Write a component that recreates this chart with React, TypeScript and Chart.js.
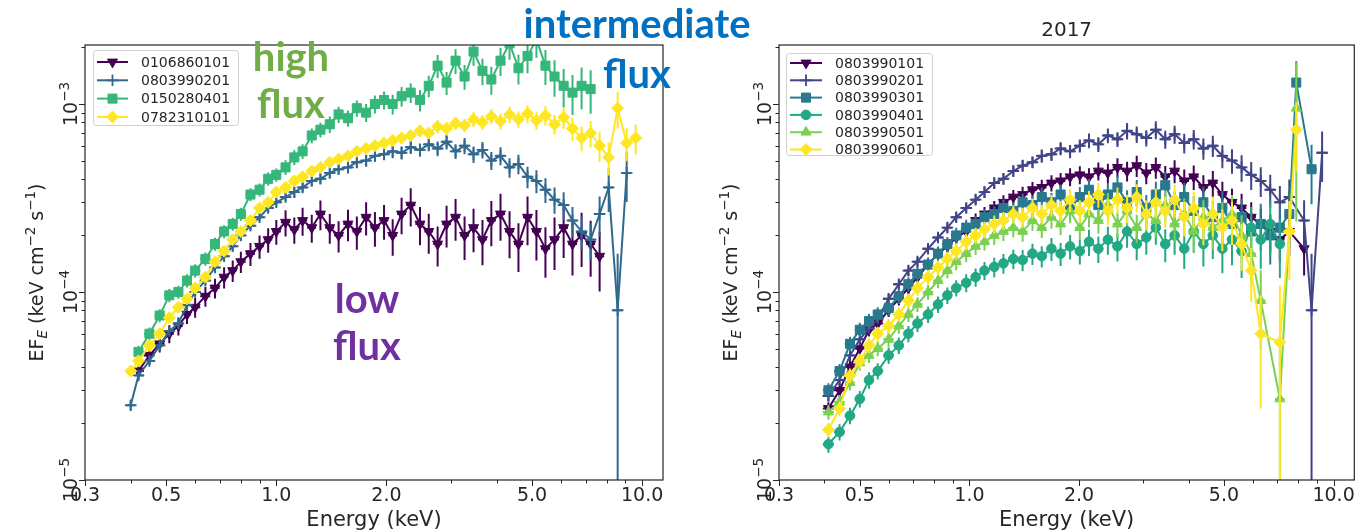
import { useEffect, useRef } from "react";
import { Chart, registerables } from "chart.js";

Chart.register(...registerables);

// ---------------- DATA ----------------
// Left panel: energy grid (keV)
const LEFT_ENERGY = [
  0.40, 0.42, 0.45, 0.48, 0.51, 0.54, 0.57, 0.60, 0.64, 0.68,
  0.72, 0.76, 0.80, 0.85, 0.90, 0.95, 1.00, 1.06, 1.12, 1.18,
  1.25, 1.32, 1.40, 1.48, 1.57, 1.66, 1.76, 1.86, 1.97, 2.08,
  2.20, 2.33, 2.47, 2.61, 2.76, 2.92, 3.09, 3.27, 3.46, 3.66,
  3.87, 4.10, 4.34, 4.59, 4.86, 5.14, 5.44, 5.76, 6.10, 6.45,
  6.83, 7.23, 7.65, 8.10, 8.57, 9.07, 9.60,
];
const LEFT_LABELS = ["0106860101", "0803990201", "0150280401", "0782310101"];

// EF_E values (keV cm^-2 s^-1)
const L_0106860101 = [
  null, 3.8e-5, 4.6e-5, 5.3e-5, 6.0e-5, 6.6e-5, 7.6e-5, 8.3e-5, 9.5e-5, 1.05e-4,
  1.2e-4, 1.3e-4, 1.45e-4, 1.6e-4, 1.75e-4, 1.9e-4, 2.1e-4, 2.35e-4, 2.15e-4, 2.4e-4,
  2.2e-4, 2.6e-4, 2.2e-4, 2.0e-4, 2.3e-4, 2.1e-4, 2.5e-4, 2.2e-4, 2.4e-4, 2.0e-4,
  2.6e-4, 2.9e-4, 2.3e-4, 2.1e-4, 1.8e-4, 2.3e-4, 2.5e-4, 2.0e-4, 2.2e-4, 1.9e-4,
  2.4e-4, 2.6e-4, 2.1e-4, 1.8e-4, 2.5e-4, 2.1e-4, 1.7e-4, 1.9e-4, 2.2e-4, 1.8e-4,
  2.0e-4, 1.8e-4, 1.55e-4, null, null, null, null,
];
const L_0803990201 = [
  2.5e-5, 3.6e-5, 4.3e-5, 5.2e-5, 6.2e-5, 6.8e-5, 8.5e-5, 1.0e-4, 1.15e-4, 1.35e-4,
  1.55e-4, 1.75e-4, 2.0e-4, 2.25e-4, 2.5e-4, 2.8e-4, 3.0e-4, 3.2e-4, 3.4e-4, 3.6e-4,
  3.9e-4, 4.0e-4, 4.3e-4, 4.5e-4, 4.6e-4, 4.9e-4, 5.0e-4, 5.3e-4, 5.4e-4, 5.6e-4,
  5.5e-4, 5.9e-4, 5.7e-4, 6.1e-4, 5.8e-4, 6.3e-4, 5.6e-4, 6.0e-4, 5.4e-4, 5.7e-4,
  5.0e-4, 5.3e-4, 4.6e-4, 4.8e-4, 4.1e-4, 3.9e-4, 3.5e-4, 3.1e-4, 2.9e-4, 2.4e-4,
  2.1e-4, 1.9e-4, 2.6e-4, 3.6e-4, 8.0e-5, 4.3e-4, null,
];
const L_0150280401 = [
  null, 4.8e-5, 6.0e-5, 7.5e-5, 9.6e-5, 1.0e-4, 1.15e-4, 1.3e-4, 1.5e-4, 1.8e-4,
  2.1e-4, 2.3e-4, 2.6e-4, 3.3e-4, 3.5e-4, 4.0e-4, 4.2e-4, 4.6e-4, 5.2e-4, 5.6e-4,
  6.8e-4, 7.3e-4, 7.8e-4, 8.8e-4, 8.4e-4, 9.5e-4, 9.0e-4, 1.0e-3, 1.05e-3, 1.0e-3,
  1.1e-3, 1.15e-3, 1.05e-3, 1.25e-3, 1.6e-3, 1.3e-3, 1.7e-3, 1.4e-3, 1.9e-3, 1.5e-3,
  1.35e-3, 1.7e-3, 2.1e-3, 1.55e-3, 1.8e-3, 2.2e-3, 1.6e-3, 1.4e-3, 1.25e-3, 1.15e-3,
  1.25e-3, 1.2e-3, null, null, null, null, null,
];
const L_0782310101 = [
  3.8e-5, 4.3e-5, 5.2e-5, 6.0e-5, 7.3e-5, 8.3e-5, 9.2e-5, 1.05e-4, 1.2e-4, 1.45e-4,
  1.65e-4, 1.9e-4, 2.1e-4, 2.4e-4, 2.8e-4, 3.0e-4, 3.4e-4, 3.6e-4, 3.9e-4, 4.1e-4,
  4.4e-4, 4.6e-4, 4.9e-4, 5.1e-4, 5.3e-4, 5.6e-4, 5.8e-4, 6.0e-4, 6.2e-4, 6.4e-4,
  6.6e-4, 6.8e-4, 7.2e-4, 7.0e-4, 7.6e-4, 7.4e-4, 7.9e-4, 7.7e-4, 8.3e-4, 8.0e-4,
  8.6e-4, 8.1e-4, 8.8e-4, 8.3e-4, 8.9e-4, 8.2e-4, 8.7e-4, 7.8e-4, 8.5e-4, 7.4e-4,
  6.6e-4, 7.0e-4, 6.0e-4, 5.2e-4, 9.5e-4, 6.2e-4, 6.6e-4,
];
// 1-sigma errors, percent of value
const L_ERR_0106860101 = [
  null, 10, 10, 10, 11, 11, 11, 12, 12, 12,
  13, 13, 13, 14, 14, 15, 15, 16, 16, 17,
  17, 18, 18, 19, 19, 20, 20, 21, 21, 22,
  22, 23, 23, 24, 24, 25, 25, 26, 26, 27,
  27, 28, 28, 29, 29, 30, 30, 31, 31, 32,
  32, 33, 35, null, null, null, null,
];
const L_ERR_0803990201 = [
  6, 5, 5, 5, 5, 5, 5, 5, 5, 5,
  5, 5, 5, 5, 5, 5, 5, 5, 6, 6,
  6, 6, 6, 6, 7, 7, 7, 7, 7, 8,
  8, 8, 8, 8, 9, 9, 9, 10, 10, 10,
  11, 11, 12, 12, 13, 14, 15, 16, 17, 18,
  20, 22, 24, 26, 100, 30, null,
];
const L_ERR_0150280401 = [
  null, 8, 8, 8, 8, 8, 8, 8, 8, 8,
  8, 8, 8, 8, 8, 8, 8, 9, 9, 9,
  9, 9, 10, 10, 10, 10, 11, 11, 11, 12,
  12, 12, 13, 13, 14, 14, 15, 15, 16, 16,
  17, 17, 18, 18, 19, 20, 21, 22, 23, 24,
  25, 26, null, null, null, null, null,
];
const L_ERR_0782310101 = [
  6, 6, 5, 5, 5, 5, 5, 5, 5, 5,
  5, 5, 5, 5, 5, 5, 5, 5, 5, 5,
  5, 5, 5, 6, 6, 6, 6, 6, 6, 7,
  7, 7, 7, 7, 8, 8, 8, 8, 9, 9,
  9, 10, 10, 10, 11, 11, 12, 12, 13, 14,
  15, 16, 18, 20, 22, 20, 18,
];

// Right panel (2017)
const RIGHT_ENERGY = [
  0.41, 0.44, 0.47, 0.50, 0.53, 0.56, 0.60, 0.64, 0.68, 0.72,
  0.77, 0.82, 0.87, 0.92, 0.98, 1.04, 1.10, 1.17, 1.24, 1.32,
  1.40, 1.49, 1.58, 1.68, 1.78, 1.89, 2.01, 2.13, 2.26, 2.40,
  2.55, 2.71, 2.88, 3.06, 3.25, 3.45, 3.66, 3.89, 4.13, 4.39,
  4.66, 4.95, 5.26, 5.59, 5.94, 6.31, 6.70, 7.12, 7.56, 7.90,
  8.30, 8.70, 9.30,
];
const RIGHT_LABELS = ["0803990101", "0803990201", "0803990301", "0803990401", "0803990501", "0803990601"];

const R_0803990101 = [
  2.4e-5, 3.0e-5, 4.0e-5, 5.0e-5, 6.3e-5, 6.8e-5, 8.0e-5, 9.2e-5, 1.05e-4, 1.2e-4,
  1.4e-4, 1.6e-4, 1.75e-4, 1.95e-4, 2.1e-4, 2.4e-4, 2.6e-4, 2.8e-4, 3.0e-4, 3.2e-4,
  3.3e-4, 3.5e-4, 3.6e-4, 3.8e-4, 3.9e-4, 4.1e-4, 4.2e-4, 4.1e-4, 4.4e-4, 4.3e-4,
  4.6e-4, 4.4e-4, 4.7e-4, 4.3e-4, 4.6e-4, 4.1e-4, 4.4e-4, 3.9e-4, 4.1e-4, 3.6e-4,
  3.8e-4, 3.3e-4, 3.0e-4, 2.8e-4, 2.5e-4, 2.3e-4, 2.1e-4, 1.9e-4, 2.1e-4, null,
  1.7e-4, null, null,
];
const R_0803990201 = [
  2.8e-5, 3.4e-5, 4.6e-5, 5.6e-5, 6.4e-5, 7.2e-5, 9.2e-5, 1.1e-4, 1.3e-4, 1.45e-4,
  1.7e-4, 1.95e-4, 2.2e-4, 2.5e-4, 2.8e-4, 3.1e-4, 3.4e-4, 3.8e-4, 4.0e-4, 4.4e-4,
  4.7e-4, 4.9e-4, 5.3e-4, 5.4e-4, 5.8e-4, 5.6e-4, 6.0e-4, 6.4e-4, 6.1e-4, 6.8e-4,
  6.5e-4, 7.2e-4, 6.9e-4, 6.6e-4, 7.3e-4, 6.5e-4, 6.9e-4, 6.2e-4, 6.5e-4, 5.8e-4,
  6.0e-4, 5.3e-4, 5.0e-4, 4.6e-4, 4.2e-4, 3.9e-4, 3.5e-4, 3.0e-4, 3.2e-4, null,
  2.4e-4, 8.0e-5, 5.5e-4,
];
const R_0803990301 = [
  3.0e-5, 3.8e-5, 5.3e-5, 6.3e-5, 7.0e-5, 7.6e-5, 8.2e-5, 9.5e-5, 1.1e-4, 1.25e-4,
  1.4e-4, 1.6e-4, 1.8e-4, 2.0e-4, 2.2e-4, 2.3e-4, 2.5e-4, 2.6e-4, 2.8e-4, 2.7e-4,
  3.0e-4, 2.9e-4, 3.2e-4, 3.0e-4, 3.3e-4, 2.8e-4, 3.2e-4, 3.5e-4, 2.9e-4, 3.3e-4,
  3.6e-4, 3.0e-4, 3.4e-4, 2.8e-4, 3.3e-4, 3.7e-4, 2.9e-4, 3.2e-4, 2.7e-4, 3.0e-4,
  2.5e-4, 2.8e-4, 2.3e-4, 2.5e-4, 2.1e-4, 2.3e-4, 2.0e-4, 2.2e-4, 2.6e-4, 1.3e-3,
  null, 4.5e-4, null,
];
const R_0803990401 = [
  1.55e-5, 1.8e-5, 2.2e-5, 2.7e-5, 3.4e-5, 3.8e-5, 4.6e-5, 5.2e-5, 6.0e-5, 6.8e-5,
  7.6e-5, 8.6e-5, 9.6e-5, 1.05e-4, 1.12e-4, 1.2e-4, 1.3e-4, 1.36e-4, 1.42e-4, 1.5e-4,
  1.48e-4, 1.6e-4, 1.55e-4, 1.7e-4, 1.6e-4, 1.75e-4, 1.65e-4, 1.85e-4, 1.7e-4, 1.9e-4,
  1.75e-4, 2.1e-4, 1.8e-4, 1.95e-4, 2.2e-4, 1.8e-4, 2.0e-4, 1.7e-4, 2.1e-4, 1.8e-4,
  2.0e-4, 1.7e-4, 1.9e-4, 1.65e-4, 2.2e-4, 1.9e-4, 2.3e-4, 1.8e-4, null, null,
  null, null, null,
];
const R_0803990501 = [
  2.3e-5, 2.6e-5, 3.3e-5, 4.2e-5, 4.6e-5, 5.0e-5, 5.6e-5, 6.6e-5, 7.6e-5, 8.6e-5,
  1.0e-4, 1.15e-4, 1.3e-4, 1.45e-4, 1.6e-4, 1.75e-4, 1.85e-4, 2.0e-4, 2.1e-4, 2.2e-4,
  2.1e-4, 2.4e-4, 2.2e-4, 2.5e-4, 2.3e-4, 2.7e-4, 2.2e-4, 2.6e-4, 2.4e-4, 2.9e-4,
  2.3e-4, 2.7e-4, 2.2e-4, 2.6e-4, 2.4e-4, 2.9e-4, 2.3e-4, 2.6e-4, 2.1e-4, 2.5e-4,
  2.2e-4, 2.4e-4, 2.6e-4, 2.0e-4, 1.6e-4, 9.0e-5, null, 2.7e-5, null, 9.5e-4,
  null, null, null,
];
const R_0803990601 = [
  1.85e-5, 2.4e-5, 3.6e-5, 4.3e-5, 5.2e-5, 6.0e-5, 6.6e-5, 7.6e-5, 9.0e-5, 1.05e-4,
  1.2e-4, 1.35e-4, 1.5e-4, 1.65e-4, 1.85e-4, 2.0e-4, 2.15e-4, 2.3e-4, 2.4e-4, 2.6e-4,
  2.5e-4, 2.8e-4, 2.6e-4, 2.9e-4, 2.7e-4, 3.1e-4, 2.7e-4, 3.0e-4, 3.3e-4, 2.7e-4,
  3.1e-4, 2.8e-4, 3.2e-4, 2.6e-4, 3.0e-4, 2.7e-4, 3.1e-4, 2.5e-4, 2.8e-4, 2.3e-4,
  2.6e-4, 2.2e-4, 2.4e-4, 1.8e-4, 1.3e-4, 6.0e-5, null, 5.4e-5, 2.1e-4, 7.3e-4,
  null, null, null,
];
const R_ERR_0803990101 = [
  8, 8, 8, 8, 8, 8, 8, 8, 8, 8,
  8, 8, 8, 8, 8, 9, 9, 9, 9, 9,
  10, 10, 10, 10, 10, 11, 11, 11, 11, 12,
  12, 12, 13, 13, 13, 14, 14, 15, 15, 16,
  16, 17, 18, 19, 20, 21, 22, 24, 26, null,
  28, null, null,
];
const R_ERR_0803990201 = [
  6, 6, 6, 6, 6, 6, 6, 6, 6, 6,
  6, 6, 6, 6, 6, 6, 7, 7, 7, 7,
  7, 7, 8, 8, 8, 8, 8, 9, 9, 9,
  9, 10, 10, 10, 11, 11, 11, 12, 12, 13,
  13, 14, 15, 16, 17, 18, 20, 22, 24, null,
  28, 100, 30,
];
const R_ERR_0803990301 = [
  9, 9, 9, 9, 9, 9, 9, 9, 9, 9,
  9, 9, 9, 10, 10, 10, 10, 10, 11, 11,
  11, 12, 12, 12, 13, 13, 13, 14, 14, 15,
  15, 16, 16, 17, 17, 18, 18, 19, 20, 21,
  22, 23, 24, 25, 26, 28, 30, 32, 34, 30,
  null, 35, null,
];
const R_ERR_0803990401 = [
  10, 10, 10, 10, 10, 10, 10, 10, 10, 10,
  10, 10, 10, 10, 11, 11, 11, 12, 12, 12,
  13, 13, 13, 14, 14, 15, 15, 16, 16, 17,
  17, 18, 18, 19, 19, 20, 21, 22, 23, 24,
  25, 26, 27, 28, 29, 30, 32, 34, null, null,
  null, null, null,
];
const R_ERR_0803990501 = [
  9, 9, 9, 9, 9, 9, 9, 9, 9, 9,
  9, 9, 9, 10, 10, 10, 10, 11, 11, 11,
  12, 12, 12, 13, 13, 14, 14, 15, 15, 16,
  16, 17, 17, 18, 18, 19, 20, 21, 22, 23,
  24, 25, 26, 28, 30, 45, null, 100, null, 75,
  null, null, null,
];
const R_ERR_0803990601 = [
  9, 9, 9, 9, 9, 9, 9, 9, 9, 9,
  9, 9, 9, 10, 10, 10, 10, 11, 11, 11,
  12, 12, 12, 13, 13, 14, 14, 15, 15, 16,
  16, 17, 17, 18, 18, 19, 20, 21, 22, 23,
  24, 25, 26, 28, 32, 60, null, 100, 45, 40,
  null, null, null,
];

// Axis ticks
const X_TICK_VALUES = [0.3, 0.5, 1, 2, 5, 10];
const X_TICK_LABELS = ["0.3", "0.5", "1.0", "2.0", "5.0", "10.0"];
const X_MINOR_TICKS = [0.4, 0.6, 0.7, 0.8, 0.9, 3, 4, 6, 7, 8, 9];
const Y_DECADES = [1e-5, 1e-4, 1e-3];
const Y_DECADE_EXPONENTS = ["\u22125", "\u22124", "\u22123"];
const Y_MINOR_MULT = [2, 3, 4, 5, 6, 7, 8, 9];
const X_RANGE = [0.3, 11.4];
const Y_RANGE = [1e-5, 2.06e-3];

// ---------------- STYLE ----------------
const W = 1362;
const H = 532;
const AXIS_COLOR = "#262626";
const FONT = '"DejaVu Sans", sans-serif';

type MarkerName = "triDown" | "triUp" | "plus" | "square" | "circle" | "diamond";
const MARKERS: Record<MarkerName, { style: string; rotation: number; radius: number }> = {
  triDown: { style: "triangle", rotation: 180, radius: 5.8 },
  triUp: { style: "triangle", rotation: 0, radius: 5.8 },
  plus: { style: "cross", rotation: 0, radius: 5.8 },
  square: { style: "rect", rotation: 0, radius: 6.4 },
  circle: { style: "circle", rotation: 0, radius: 4.8 },
  diamond: { style: "rectRot", rotation: 0, radius: 6 },
};

const LEFT_SERIES = [
  { label: LEFT_LABELS[0], values: L_0106860101, err: L_ERR_0106860101, color: "#440154", marker: "triDown" as MarkerName },
  { label: LEFT_LABELS[1], values: L_0803990201, err: L_ERR_0803990201, color: "#31688e", marker: "plus" as MarkerName },
  { label: LEFT_LABELS[2], values: L_0150280401, err: L_ERR_0150280401, color: "#35b779", marker: "square" as MarkerName },
  { label: LEFT_LABELS[3], values: L_0782310101, err: L_ERR_0782310101, color: "#fde725", marker: "diamond" as MarkerName },
];
const RIGHT_SERIES = [
  { label: RIGHT_LABELS[0], values: R_0803990101, err: R_ERR_0803990101, color: "#440154", marker: "triDown" as MarkerName },
  { label: RIGHT_LABELS[1], values: R_0803990201, err: R_ERR_0803990201, color: "#414487", marker: "plus" as MarkerName },
  { label: RIGHT_LABELS[2], values: R_0803990301, err: R_ERR_0803990301, color: "#2a788e", marker: "square" as MarkerName },
  { label: RIGHT_LABELS[3], values: R_0803990401, err: R_ERR_0803990401, color: "#22a884", marker: "circle" as MarkerName },
  { label: RIGHT_LABELS[4], values: R_0803990501, err: R_ERR_0803990501, color: "#7ad151", marker: "triUp" as MarkerName },
  { label: RIGHT_LABELS[5], values: R_0803990601, err: R_ERR_0803990601, color: "#fde725", marker: "diamond" as MarkerName },
];

type Panel = {
  left: number; right: number; top: number; bottom: number;
  title: string | null;
  legend: { x: number; y: number; w: number; h: number; row0: number; dy: number; lineX0: number; lineX1: number; textX: number };
  annotate: boolean;
};

const LEFT_PANEL: Panel = {
  left: 85, right: 663, top: 45, bottom: 480, title: null,
  legend: { x: 93, y: 50, w: 145, h: 75, row0: 62, dy: 18.3, lineX0: 97, lineX1: 128, textX: 141 },
  annotate: false,
};
const RIGHT_PANEL: Panel = {
  left: 779, right: 1359, top: 45, bottom: 480, title: "2017",
  legend: { x: 786, y: 53, w: 146, h: 102, row0: 63, dy: 17.3, lineX0: 790, lineX1: 822, textX: 835 },
  annotate: true,
};

const ANNOTATIONS = [
  { lines: ["high", "flux"], color: "#70AD47", cx: 291, baselines: [71, 118] },
  { lines: ["intermediate", "flux"], color: "#0070C0", cx: 637, baselines: [38, 88] },
  { lines: ["low", "flux"], color: "#7030A0", cx: 367, baselines: [313, 360] },
];

// ---------------- HELPERS ----------------
function drawMarker(ctx: CanvasRenderingContext2D, m: MarkerName, x: number, y: number, color: string) {
  const cfg = MARKERS[m];
  const r = cfg.radius;
  ctx.save();
  ctx.fillStyle = color;
  ctx.strokeStyle = color;
  ctx.lineWidth = m === "plus" ? 1.8 : 1;
  ctx.beginPath();
  if (m === "triDown" || m === "triUp") {
    let rad = (cfg.rotation * Math.PI) / 180;
    for (let i = 0; i < 3; i++) {
      const px = x + Math.sin(rad) * r;
      const py = y - Math.cos(rad) * r;
      if (i === 0) ctx.moveTo(px, py); else ctx.lineTo(px, py);
      rad += (2 * Math.PI) / 3;
    }
    ctx.closePath();
    ctx.fill();
    ctx.stroke();
  } else if (m === "plus") {
    ctx.moveTo(x, y - r); ctx.lineTo(x, y + r);
    ctx.moveTo(x - r, y); ctx.lineTo(x + r, y);
    ctx.stroke();
  } else if (m === "square") {
    const s = r * Math.SQRT1_2;
    ctx.rect(x - s, y - s, 2 * s, 2 * s);
    ctx.fill(); ctx.stroke();
  } else if (m === "circle") {
    ctx.arc(x, y, r, 0, Math.PI * 2);
    ctx.fill(); ctx.stroke();
  } else {
    ctx.moveTo(x - r, y); ctx.lineTo(x, y - r); ctx.lineTo(x + r, y); ctx.lineTo(x, y + r);
    ctx.closePath();
    ctx.fill(); ctx.stroke();
  }
  ctx.restore();
}

type Part = { t: string; size: number; dy?: number; italic?: boolean };
function drawRotated(ctx: CanvasRenderingContext2D, xBase: number, yCenter: number, parts: Part[]) {
  ctx.save();
  ctx.translate(xBase, yCenter);
  ctx.rotate(-Math.PI / 2);
  ctx.textAlign = "left";
  ctx.textBaseline = "alphabetic";
  const widths = parts.map((p) => {
    ctx.font = `${p.italic ? "italic " : ""}${p.size}px ${FONT}`;
    return ctx.measureText(p.t).width;
  });
  const total = widths.reduce((a, b) => a + b, 0);
  let x = -total / 2;
  parts.forEach((p, i) => {
    ctx.font = `${p.italic ? "italic " : ""}${p.size}px ${FONT}`;
    ctx.fillText(p.t, x, p.dy || 0);
    x += widths[i];
  });
  ctx.restore();
}

const errorBarPlugin = {
  id: "errbars",
  beforeDatasetDraw(chart: any, args: any) {
    const ds: any = chart.data.datasets[args.index];
    const err: (number | null)[] = ds.errPct;
    const energy: number[] = ds.energy;
    if (!err) return;
    const ctx: CanvasRenderingContext2D = chart.ctx;
    const a = chart.chartArea;
    const xs = chart.scales.x;
    const ys = chart.scales.y;
    ctx.save();
    ctx.beginPath();
    ctx.rect(a.left, a.top, a.right - a.left, a.bottom - a.top);
    ctx.clip();
    ctx.strokeStyle = ds.borderColor;
    ctx.lineWidth = 2;
    ctx.beginPath();
    ds.data.forEach((p: any, k: number) => {
      if (p.y == null) return;
      const x = p.x, y = p.y;
      const px = xs.getPixelForValue(x);
      const e = ((err[k] ?? 0) / 100) * y;
      const top = ys.getPixelForValue(y + e);
      const bot = y - e > 0 ? ys.getPixelForValue(y - e) : a.bottom + 10;
      ctx.moveTo(px, top);
      ctx.lineTo(px, bot);
      const prev = k > 0 ? energy[k - 1] : null;
      const next = k < energy.length - 1 ? energy[k + 1] : null;
      const lo = prev != null ? Math.sqrt(prev * x) : x * Math.sqrt(x / (next as number));
      const hi = next != null ? Math.sqrt(next * x) : x * Math.sqrt(x / (prev as number));
      const py = ys.getPixelForValue(y);
      ctx.moveTo(xs.getPixelForValue(lo), py);
      ctx.lineTo(xs.getPixelForValue(hi), py);
    });
    ctx.stroke();
    ctx.restore();
  },
};

function makeDecoPlugin(panel: Panel, series: typeof LEFT_SERIES) {
  return {
    id: "deco",
    afterDraw(chart: any) {
      const ctx: CanvasRenderingContext2D = chart.ctx;
      const a = chart.chartArea;
      const xs = chart.scales.x;
      const ys = chart.scales.y;
      ctx.save();
      ctx.strokeStyle = AXIS_COLOR;
      ctx.fillStyle = AXIS_COLOR;
      // frame
      ctx.lineWidth = 1.2;
      ctx.strokeRect(a.left, a.top, a.right - a.left, a.bottom - a.top);
      // x ticks
      ctx.lineWidth = 1;
      ctx.beginPath();
      X_TICK_VALUES.forEach((v) => {
        const px = Math.round(xs.getPixelForValue(v)) + 0.5;
        ctx.moveTo(px, a.bottom); ctx.lineTo(px, a.bottom + 6);
      });
      X_MINOR_TICKS.forEach((v) => {
        const px = Math.round(xs.getPixelForValue(v)) + 0.5;
        ctx.moveTo(px, a.bottom); ctx.lineTo(px, a.bottom + 3.5);
      });
      // y ticks
      Y_DECADES.forEach((d) => {
        const py = Math.round(ys.getPixelForValue(d)) + 0.5;
        ctx.moveTo(a.left, py); ctx.lineTo(a.left - 6, py);
        Y_MINOR_MULT.forEach((m) => {
          const v = d * m;
          if (v > Y_RANGE[1]) return;
          const pm = Math.round(ys.getPixelForValue(v)) + 0.5;
          ctx.moveTo(a.left, pm); ctx.lineTo(a.left - 3.5, pm);
        });
      });
      ctx.stroke();
      // x labels
      ctx.font = `19px ${FONT}`;
      ctx.textAlign = "center";
      ctx.textBaseline = "alphabetic";
      X_TICK_VALUES.forEach((v, i) => {
        ctx.fillText(X_TICK_LABELS[i], xs.getPixelForValue(v), a.bottom + 21);
      });
      ctx.font = `21px ${FONT}`;
      ctx.fillText("Energy (keV)", (a.left + a.right) / 2, 526);
      // y labels (rotated)
      Y_DECADES.forEach((d, i) => {
        drawRotated(ctx, a.left - 8, ys.getPixelForValue(d), [
          { t: "10", size: 19 },
          { t: Y_DECADE_EXPONENTS[i], size: 13.5, dy: -8 },
        ]);
      });
      drawRotated(ctx, a.left - 42, (a.top + a.bottom) / 2 + 10, [
        { t: "EF", size: 19 },
        { t: "E", size: 13.5, dy: 4, italic: true },
        { t: " (keV cm", size: 19 },
        { t: "\u22122", size: 13.5, dy: -8 },
        { t: " s", size: 19 },
        { t: "\u22121", size: 13.5, dy: -8 },
        { t: ")", size: 19 },
      ]);
      // title
      if (panel.title) {
        ctx.font = `20px ${FONT}`;
        ctx.textAlign = "center";
        ctx.fillText(panel.title, (a.left + a.right) / 2, 36);
      }
      // legend
      const L = panel.legend;
      ctx.beginPath();
      ctx.fillStyle = "rgba(255,255,255,0.85)";
      ctx.strokeStyle = "#d0d0d0";
      ctx.lineWidth = 1;
      (ctx as any).roundRect(L.x + 0.5, L.y + 0.5, L.w, L.h, 3);
      ctx.fill();
      ctx.stroke();
      series.forEach((s, i) => {
        const y = L.row0 + i * L.dy;
        ctx.strokeStyle = s.color;
        ctx.lineWidth = 2;
        ctx.beginPath();
        ctx.moveTo(L.lineX0, y); ctx.lineTo(L.lineX1, y);
        ctx.stroke();
        drawMarker(ctx, s.marker, (L.lineX0 + L.lineX1) / 2, y, s.color);
        ctx.fillStyle = AXIS_COLOR;
        ctx.font = `14px ${FONT}`;
        ctx.textAlign = "left";
        ctx.textBaseline = "middle";
        ctx.fillText(s.label, L.textX, y + 1);
      });
      // annotations
      if (panel.annotate) {
        ctx.textBaseline = "alphabetic";
        ctx.textAlign = "center";
        ctx.font = `bold 100px Lato, sans-serif`;
        const ref = ctx.measureText("intermediate").width;
        const size = (100 * 227) / ref;
        ctx.font = `bold ${size}px Lato, sans-serif`;
        ANNOTATIONS.forEach((an) => {
          ctx.fillStyle = an.color;
          an.lines.forEach((t, j) => ctx.fillText(t, an.cx, an.baselines[j]));
        });
      }
      ctx.restore();
    },
  };
}

function makeConfig(energy: number[], series: typeof LEFT_SERIES, panel: Panel): any {
  const n = series.length;
  const datasets = series.map((s, i) => {
    const m = MARKERS[s.marker];
    return {
      label: s.label,
      data: energy.map((e, k) => ({ x: e, y: s.values[k] })),
      errPct: s.err,
      energy,
      borderColor: s.color,
      backgroundColor: s.color,
      borderWidth: 2,
      pointStyle: m.style,
      pointRotation: m.rotation,
      pointRadius: m.radius,
      pointBackgroundColor: s.color,
      pointBorderColor: s.color,
      pointBorderWidth: s.marker === "plus" ? 1.9 : 1,
      spanGaps: true,
      tension: 0,
      fill: false,
      order: n - i,
    };
  });
  return {
    type: "line",
    data: { datasets },
    options: {
      responsive: false,
      maintainAspectRatio: false,
      animation: false,
      events: [],
      layout: { padding: { left: panel.left, right: W - panel.right, top: panel.top, bottom: H - panel.bottom } },
      plugins: { legend: { display: false }, tooltip: { enabled: false } },
      scales: {
        x: {
          type: "logarithmic", min: X_RANGE[0], max: X_RANGE[1],
          ticks: { display: false }, grid: { display: false, drawTicks: false }, border: { display: false },
          afterFit: (s: any) => { s.height = 0; },
        },
        y: {
          type: "logarithmic", min: Y_RANGE[0], max: Y_RANGE[1],
          ticks: { display: false }, grid: { display: false, drawTicks: false }, border: { display: false },
          afterFit: (s: any) => { s.width = 0; },
        },
      },
    },
    plugins: [errorBarPlugin, makeDecoPlugin(panel, series)],
  };
}

export default function App() {
  const leftRef = useRef<HTMLCanvasElement>(null);
  const rightRef = useRef<HTMLCanvasElement>(null);
  useEffect(() => {
    const c1 = new Chart(leftRef.current as HTMLCanvasElement, makeConfig(LEFT_ENERGY, LEFT_SERIES, LEFT_PANEL));
    const c2 = new Chart(rightRef.current as HTMLCanvasElement, makeConfig(RIGHT_ENERGY, RIGHT_SERIES, RIGHT_PANEL));
    return () => {
      c1.destroy();
      c2.destroy();
    };
  }, []);
  const cs: any = { position: "absolute", left: 0, top: 0, width: W, height: H };
  return (
    <div style={{ position: "fixed", left: 0, top: 0, width: W, height: H, background: "#fff", overflow: "hidden" }}>
      <canvas ref={leftRef} width={W} height={H} style={cs} />
      <canvas ref={rightRef} width={W} height={H} style={cs} />
    </div>
  );
}
